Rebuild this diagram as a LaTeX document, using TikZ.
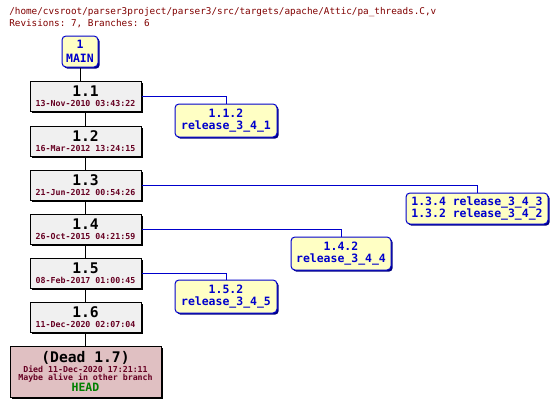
\documentclass[tikz,border=0pt]{standalone}
\usepackage{fontspec}
\setmonofont{DejaVu Sans Mono}
\usetikzlibrary{positioning,shadows}
\definecolor{titlered}{HTML}{800000}
\definecolor{datered}{HTML}{660022}
\definecolor{revgray}{HTML}{F0F0F0}
\definecolor{brblue}{HTML}{0000CC}
\definecolor{brnavy}{HTML}{000080}
\definecolor{bryellow}{HTML}{FFFFC4}
\definecolor{deadpink}{HTML}{E0C0C2}
\definecolor{headgreen}{HTML}{008000}
\newcommand{\revnum}{\fontsize{11}{11}\selectfont\bfseries}
\newcommand{\revdate}{\fontsize{6.2}{7.6}\selectfont\bfseries\color{datered}}
\newcommand{\brtxt}{\fontsize{8.6}{9}\selectfont\bfseries}
\setlength{\lineskiplimit}{-5pt}

\begin{document}
\begin{tikzpicture}[x=0.75pt, y=-0.75pt, every node/.style={font=\ttfamily, inner sep=0pt}]
\tikzstyle{rev}=[draw, line width=0.75pt, fill=revgray, minimum width=83.25pt, minimum height=22.5pt, align=center,
  font=\ttfamily\fontsize{6.2}{7.8}\selectfont,
  drop shadow={shadow xshift=1.3pt, shadow yshift=-1.3pt, fill=black, opacity=1}]
\tikzstyle{br}=[draw=brblue, line width=0.75pt, fill=bryellow, rounded corners=3pt, text=brblue, align=center,
  minimum height=24.75pt, font=\ttfamily\brtxt,
  drop shadow={shadow xshift=1.3pt, shadow yshift=-1.3pt, fill=brnavy, opacity=1}]
\useasboundingbox (0,0) rectangle (558,407);
\node[anchor=north west, align=left, text=titlered, font=\ttfamily\fontsize{7}{9}\selectfont] (title) at (9,7)
  {/home/cvsroot/parser3project/parser3/src/targets/apache/Attic/pa\_threads.C,v\\Revisions: 7, Branches: 6};
\node[br, minimum width=27pt, minimum height=23.25pt, font=\ttfamily\fontsize{8.6}{10.5}\selectfont\bfseries] (main) at (80,51.5) {1\\MAIN};
\node[rev] (r11) at (85.5,96.5) {{\revnum 1.1}\\{\revdate 13-Nov-2010 03:43:22}};
\node[rev] (r12) at (85.5,141) {{\revnum 1.2}\\{\revdate 16-Mar-2012 13:24:15}};
\node[rev] (r13) at (85.5,185) {{\revnum 1.3}\\{\revdate 21-Jun-2012 00:54:26}};
\node[rev] (r14) at (85.5,229) {{\revnum 1.4}\\{\revdate 26-Oct-2015 04:21:59}};
\node[rev] (r15) at (85.5,273) {{\revnum 1.5}\\{\revdate 08-Feb-2017 01:00:45}};
\node[rev] (r16) at (85.5,317) {{\revnum 1.6}\\{\revdate 11-Dec-2020 02:07:04}};
\node[rev, fill=deadpink, minimum width=113.25pt, minimum height=38.25pt, font=\ttfamily\fontsize{6.2}{5.6}\selectfont] (dead) at (85.5,371.5)
  {{\revnum (Dead 1.7)}\\[1.9pt]{\revdate Died 11-Dec-2020 17:21:11}\\{\revdate Maybe alive in other branch}\\[2.6pt]{\brtxt\color{headgreen}HEAD}};
\node[br, minimum width=76.5pt] (b112) at (226,120.5) {1.1.2\\release\_3\_4\_1};
\node[br, minimum width=106.5pt, minimum height=23.25pt] (b134) at (477,208.5) {1.3.4 release\_3\_4\_3\\1.3.2 release\_3\_4\_2};
\node[br, minimum width=75pt] (b142) at (341,253.5) {1.4.2\\release\_3\_4\_4};
\node[br, minimum width=76.5pt] (b152) at (226,296.5) {1.5.2\\release\_3\_4\_5};
% trunk
\draw[line width=0.75pt] (main) -- (main |- r11.north);
\draw[line width=0.75pt] (r11) -- (r12);
\draw[line width=0.75pt] (r12) -- (r13);
\draw[line width=0.75pt] (r13) -- (r14);
\draw[line width=0.75pt] (r14) -- (r15);
\draw[line width=0.75pt] (r15) -- (r16);
\draw[line width=0.75pt] (r16) -- (dead);
% branches
\draw[color=brblue, line width=0.75pt] (r11.east) -| (b112.north);
\draw[color=brblue, line width=0.75pt] (r13.east) -| (b134.north);
\draw[color=brblue, line width=0.75pt] (r14.east) -| (b142.north);
\draw[color=brblue, line width=0.75pt] (r15.east) -| (b152.north);
\end{tikzpicture}
\end{document}
